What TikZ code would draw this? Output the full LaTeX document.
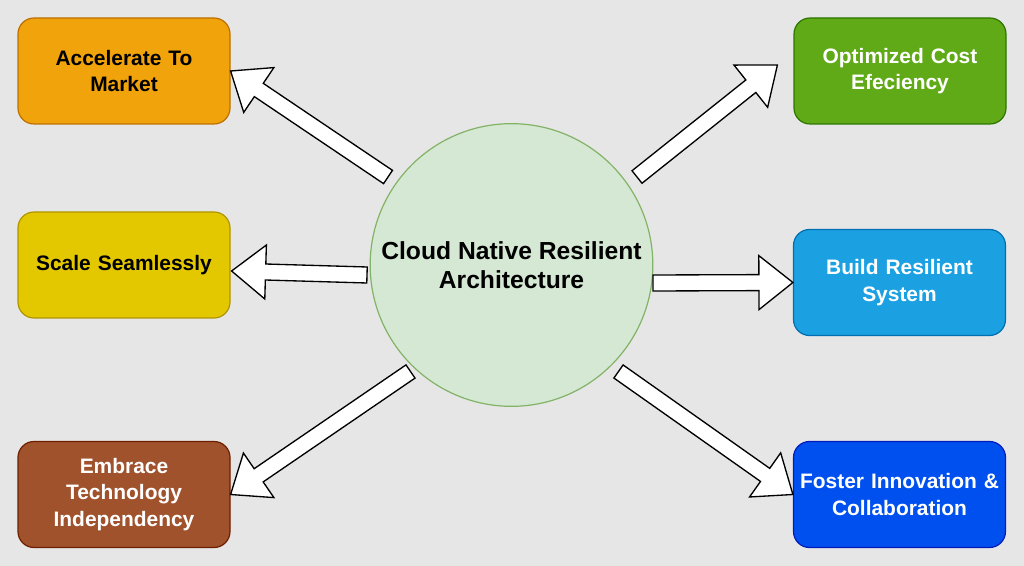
\documentclass[tikz,border=0pt]{standalone}
\usepackage{fontspec}
\setmainfont{Liberation Sans}
\usetikzlibrary{calc}
\definecolor{bg}{HTML}{E6E6E6}
\definecolor{orangeF}{HTML}{F0A30A}\definecolor{orangeD}{HTML}{BD7000}
\definecolor{greenF}{HTML}{60A917}\definecolor{greenD}{HTML}{2D7600}
\definecolor{yellowF}{HTML}{E3C800}\definecolor{yellowD}{HTML}{B09500}
\definecolor{lblueF}{HTML}{1BA1E2}\definecolor{lblueD}{HTML}{006EAF}
\definecolor{brownF}{HTML}{A0522D}\definecolor{brownD}{HTML}{6D1F00}
\definecolor{blueF}{HTML}{0050EF}\definecolor{blueD}{HTML}{001DBC}
\definecolor{circF}{HTML}{D5E8D4}\definecolor{circD}{HTML}{82B366}
\tikzset{
  box/.style={rounded corners=12pt, minimum width=159pt, minimum height=79.5pt,
    line width=0.9pt, align=center, inner sep=0pt, text width=155pt,
    font=\bfseries\fontsize{15.7}{20}\selectfont},
  hub/.style={circle, minimum size=212pt, fill=circF, draw=circD, line width=0.9pt,
    align=center, inner sep=0pt, font=\bfseries\fontsize{18.5}{22}\selectfont},
  blockarrow/.style={draw=black, fill=white, line width=1pt, line join=miter}
}
\newcommand{\flexarr}[2]{%
  \coordinate (fa-h) at ($(#2)!25.5pt!(#1)$);
  \draw[blockarrow] ($(#1)!6pt!90:(#2)$) -- ($(fa-h)!6pt!90:(#2)$)
    -- ($(fa-h)!20.25pt!90:(#2)$) -- (#2) -- ($(fa-h)!20.25pt!-90:(#2)$)
    -- ($(fa-h)!6pt!-90:(#2)$) -- ($(#1)!6pt!-90:(#2)$) -- cycle;
}
\begin{document}
\begin{tikzpicture}[x=0.75pt,y=-0.75pt]
\fill[bg] (0,0) rectangle (1024,566);
\useasboundingbox (0,0) rectangle (1024,566);

\node[box, fill=orangeF, draw=orangeD, text=black] (acc) at (124,71) {Accelerate To\\Market};
\node[box, fill=greenF, draw=greenD, text=white] (opt) at (900,71) {Optimized Cost\\Efeciency};
\node[box, fill=yellowF, draw=yellowD, text=black] (scale) at (124,265) {Scale Seamlessly};
\node[box, fill=lblueF, draw=lblueD, text=white] (build) at (899.5,282.5) {Build Resilient\\System};
\node[box, fill=brownF, draw=brownD, text=white] (emb) at (124,494.5) {Embrace\\Technology\\Independency};
\node[box, fill=blueF, draw=blueD, text=white] (fos) at (899.5,494.5) {Foster Innovation \&\\Collaboration};

\node[hub] (c) at (511.5,265) {Cloud Native Resilient\\Architecture};

\coordinate (t1) at ($(c.center)+(-123.5,-88)$);
\coordinate (t2) at ($(c.center)+(125.5,-88)$);
\coordinate (t3) at ($(c.center)+(-144.5,10)$);
\coordinate (t4) at ($(c.center)+(141.5,18)$);
\coordinate (t5) at ($(c.center)+(-101,106.5)$);
\coordinate (t6) at ($(c.center)+(107,106.5)$);
\coordinate (h2) at ($(opt.west)+(-16,-6)$);
\coordinate (h3) at ($(scale.east)+(1,6)$);

\flexarr{t1}{acc.east}
\flexarr{t2}{h2}
\flexarr{t3}{h3}
\flexarr{t4}{build.west}
\flexarr{t5}{emb.east}
\flexarr{t6}{fos.west}
\end{tikzpicture}
\end{document}
